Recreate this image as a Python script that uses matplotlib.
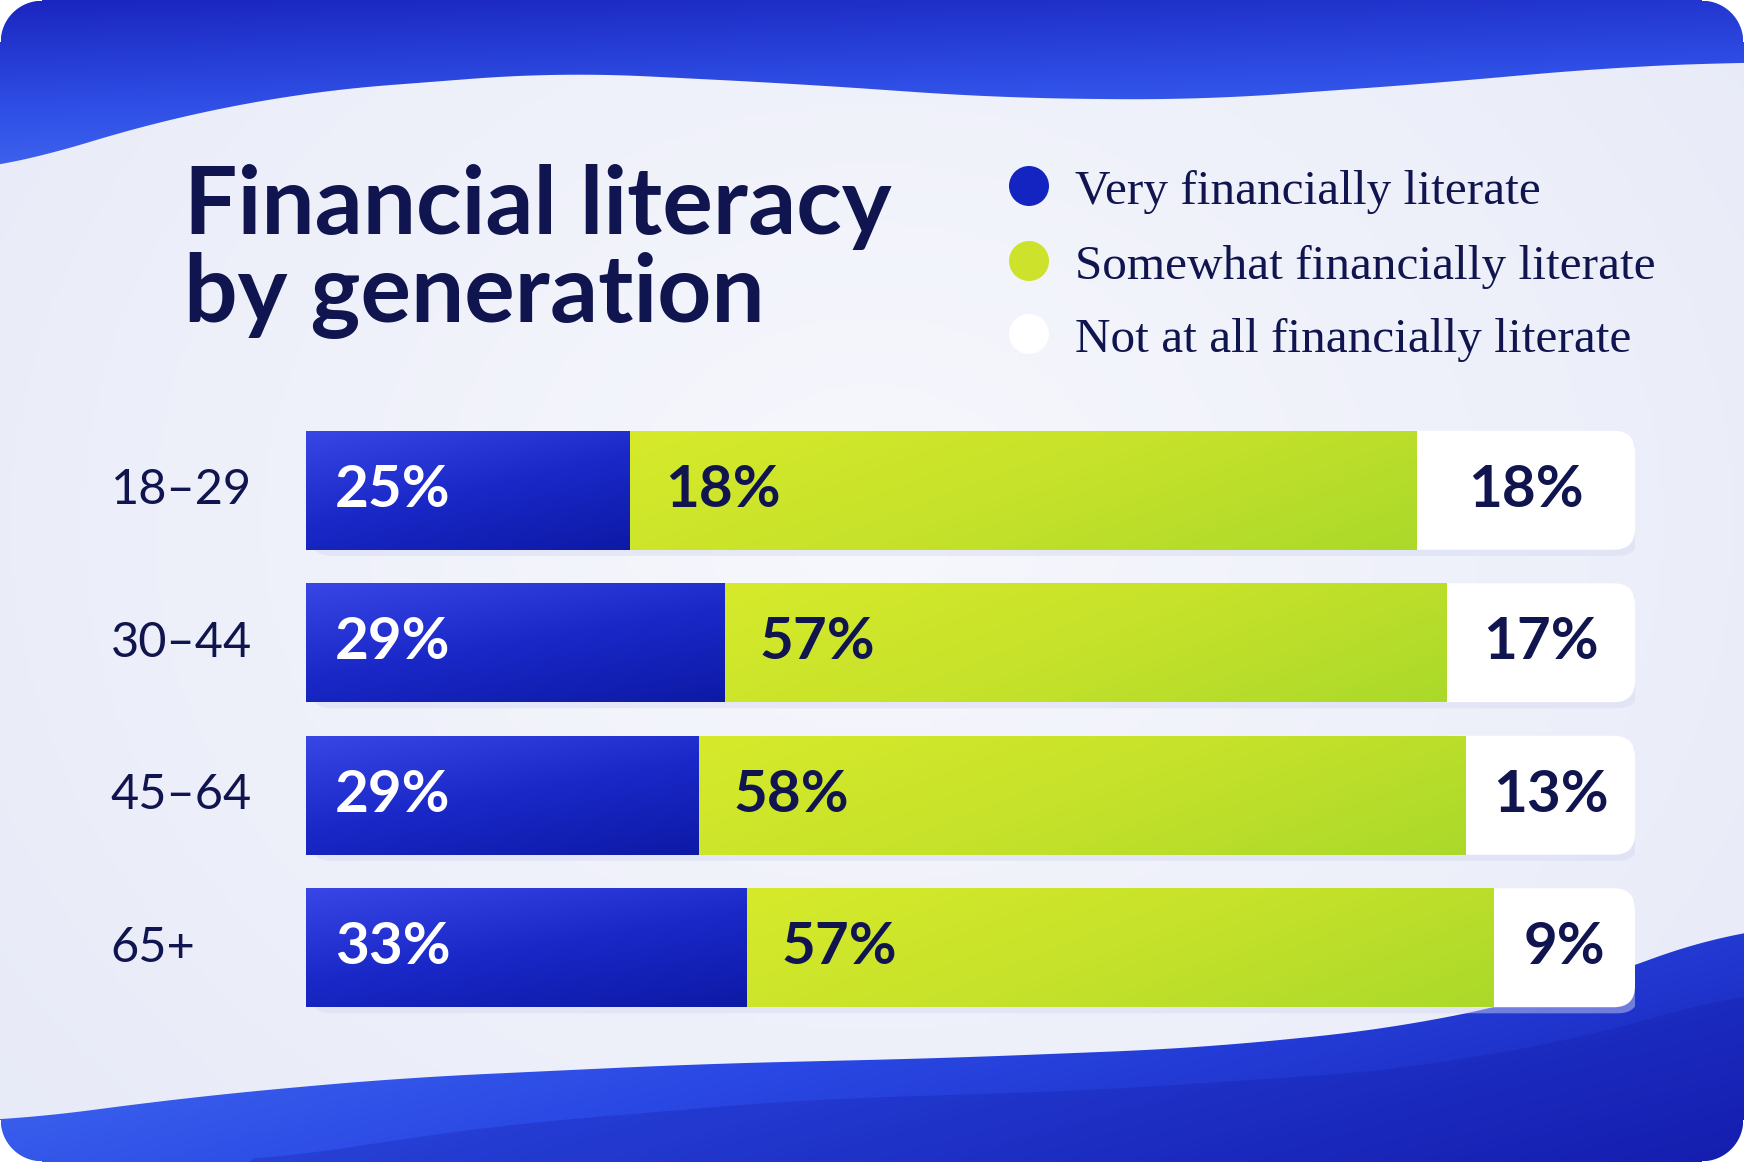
import numpy as np
import matplotlib.pyplot as plt
from matplotlib.patches import FancyBboxPatch, Polygon, Circle
from matplotlib.colors import LinearSegmentedColormap

groups = ['18–29', '30–44', '45–64', '65+']
very_lbl = ['25%', '29%', '29%', '33%']
some_lbl = ['18%', '57%', '58%', '57%']
not_lbl = ['18%', '17%', '13%', '9%']
# segment lengths as drawn in the picture (share of the bar, %)
very = [24.4, 31.5, 29.6, 33.2]
some = [59.2, 54.3, 57.7, 56.2]
not_at_all = [16.4, 14.2, 12.7, 10.6]
legend_labels = ['Very financially literate',
                 'Somewhat financially literate',
                 'Not at all financially literate']

NAVY = '#10154f'
W, H = 1744, 1162
R = 42  # corner radius of the card

fig = plt.figure(figsize=(W / 100, H / 100), dpi=100, facecolor='white')

# ---- background card with waves (pixel coords) ----
bg = fig.add_axes([0, 0, 1, 1])
bg.set_xlim(0, W)
bg.set_ylim(H, 0)
bg.axis('off')

card = FancyBboxPatch((0, 0), W, H, boxstyle='round,pad=0,rounding_size=%d' % R,
                      fc='#eef0fa', ec='none')
bg.add_patch(card)
yy, xx = np.mgrid[0:1:200j, 0:1:300j]
soft = np.hypot(xx - 0.5, (yy - 0.45) * 0.8)
im = bg.imshow(soft, extent=(0, W, H, 0), origin='upper', aspect='auto',
               cmap=LinearSegmentedColormap.from_list('s', ['#f7f8fd', '#e6e9f7']),
               vmin=0, vmax=0.7, zorder=1)
im.set_clip_path(card)


def smooth_curve(px, py):
    xs = np.linspace(0, W, 400)
    ys = np.interp(xs, px, py)
    k = 41
    pad = np.pad(ys, k // 2, mode='edge')
    ys = np.convolve(pad, np.ones(k) / k, mode='valid')
    return xs, ys


def gradient_fill(poly_pts, extent, colors, direction):
    poly = Polygon(poly_pts, closed=True, fc='none', ec='none')
    bg.add_patch(poly)
    gy, gx = np.mgrid[0:1:120j, 0:1:240j]
    g = direction[0] * gx + direction[1] * gy
    cm = LinearSegmentedColormap.from_list('g', colors)
    img = bg.imshow(g, extent=extent, origin='upper', aspect='auto', cmap=cm,
                    vmin=g.min(), vmax=g.max(), zorder=2)
    img.set_clip_path(poly)
    return img


tx, ty = smooth_curve([0, 120, 300, 560, 800, 1000, 1200, 1450, 1600, 1744],
                      [172, 130, 92, 72, 84, 98, 100, 82, 68, 62])
top_pts = [(0, 0)] + list(zip(tx, ty)) + [(W, 0)]
gradient_fill(top_pts, (0, W, 175, 0), ['#1a26bf', '#2f4fe6', '#4a72f4'], (0.25, 1.0))

bx, by = smooth_curve([0, 200, 400, 700, 950, 1200, 1400, 1550, 1650, 1744],
                      [1122, 1096, 1078, 1064, 1058, 1048, 1028, 995, 960, 925])
bot_pts = list(zip(bx, by)) + [(W, H), (0, H)]
gradient_fill(bot_pts, (0, W, H, 920), ['#4a78f6', '#2a48e4', '#1520b4'], (1.0, 0.5))
# darker inner wave
dx, dy = smooth_curve([250, 500, 800, 1100, 1400, 1600, 1744],
                      [1162, 1125, 1100, 1090, 1070, 1035, 990])
keep = dx >= 250
bg.add_patch(Polygon(list(zip(dx[keep], dy[keep])) + [(W, H), (250, H)],
                     closed=True, fc='#1418a0', alpha=0.25, ec='none', zorder=3))

# white mask outside the rounded corners
arc = np.linspace(0, np.pi / 2, 30)
for cx, cy, sx, sy in [(R, R, -1, -1), (W - R, R, 1, -1), (R, H - R, -1, 1), (W - R, H - R, 1, 1)]:
    pts = [(cx + sx * R * np.cos(a), cy + sy * R * np.sin(a)) for a in arc]
    pts += [(cx + sx * R, cy + sy * R)]
    bg.add_patch(Polygon(pts, closed=True, fc='white', ec='white', lw=1, zorder=9))

# ---- title ----
for txt, base in [('Financial literacy', 234), ('by generation', 322)]:
    fig.text(184 / W, 1 - base / H, txt, fontfamily='Lato', fontweight='bold',
             fontsize=68, color=NAVY, va='baseline', ha='left')

# ---- legend ----
leg_colors = ['#1424c0', '#cde22a', '#ffffff']
leg_y = [186, 261, 334]
for c, lab, y in zip(leg_colors, legend_labels, leg_y):
    bg.add_patch(Circle((1029, y), 20, fc=c, ec='none', zorder=5))
    bg.text(1075, y + 18, lab, fontfamily='Liberation Serif', fontsize=35.5,
            color=NAVY, va='baseline', ha='left', zorder=5)

# ---- bars ----
ax = fig.add_axes([306 / W, 1 - 1024 / H, 1329 / W, 610 / H])
ax.patch.set_alpha(0)
ypos = np.arange(len(groups))
h = 0.78
mut = (1329 / 100) / (610 / 4)

blue_cm = LinearSegmentedColormap.from_list('b', ['#3846e6', '#1a28c8', '#0d1aa6'])
green_cm = LinearSegmentedColormap.from_list('gr', ['#d6ea2a', '#c6e22a', '#abd92a'])

for i in ypos:
    total = very[i] + some[i] + not_at_all[i]
    sh = FancyBboxPatch((0.3, i - h / 2 + 0.04), total, h,
                        boxstyle='round,pad=0,rounding_size=1.6',
                        mutation_aspect=mut, fc='#d4d8f2', ec='none', alpha=0.45, zorder=1)
    ax.add_patch(sh)
    wbox = FancyBboxPatch((very[i] + some[i] - 3, i - h / 2), not_at_all[i] + 3, h,
                          boxstyle='round,pad=0,rounding_size=1.6',
                          mutation_aspect=mut, fc='white', ec='none', zorder=2)
    ax.add_patch(wbox)

bv = ax.barh(ypos, very, height=h, color='#1a28c8', zorder=3)
bs = ax.barh(ypos, some, left=very, height=h, color='#c6e22a', zorder=3)

gy, gx = np.mgrid[0:1:60j, 0:1:120j]
for bars, cm, d in [(bv, blue_cm, (0.6, 1.0)), (bs, green_cm, (1.0, 0.4))]:
    for r in bars:
        x0, y0 = r.get_x(), r.get_y()
        g = d[0] * gx + d[1] * gy
        img = ax.imshow(g, extent=(x0, x0 + r.get_width(), y0 + r.get_height(), y0),
                        origin='upper', aspect='auto', cmap=cm, zorder=4)
        img.set_clip_path(r)

for i in ypos:
    ax.text(2.2, i, very_lbl[i], fontfamily='Lato', fontweight='bold', fontsize=42,
            color='white', va='center', ha='left', zorder=6)
    ax.text(very[i] + 2.6, i, some_lbl[i], fontfamily='Lato', fontweight='bold',
            fontsize=42, color=NAVY, va='center', ha='left', zorder=6)
    ax.text(very[i] + some[i] + not_at_all[i] / 2, i, not_lbl[i], fontfamily='Lato',
            fontweight='bold', fontsize=42, color=NAVY, va='center', ha='center', zorder=6)
    ax.text(-14.7, i, groups[i], fontfamily='Lato', fontweight='normal', fontsize=35,
            color=NAVY, va='center', ha='left', zorder=6)

ax.set_xlim(0, 100)
ax.set_ylim(len(groups) - 0.5, -0.5)
ax.axis('off')

fig.savefig('out.png', dpi=100, facecolor='white')
